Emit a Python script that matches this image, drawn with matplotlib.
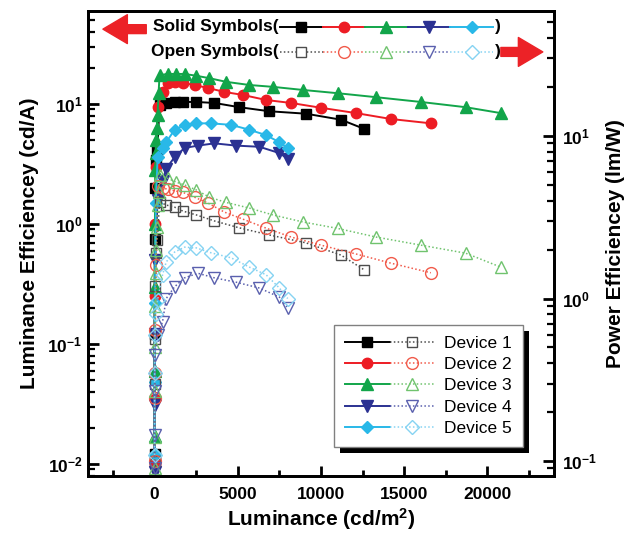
import numpy as np
import matplotlib
matplotlib.use('Agg')
import matplotlib.pyplot as plt
from matplotlib.legend_handler import HandlerTuple
from matplotlib.patches import Rectangle
from matplotlib.ticker import FixedLocator, MultipleLocator, LogLocator, FuncFormatter, NullFormatter

plt.rcParams['font.family'] = ['Liberation Sans', 'DejaVu Sans']
plt.rcParams['mathtext.fontset'] = 'custom'
plt.rcParams['mathtext.rm'] = 'Liberation Sans:bold'
plt.rcParams['mathtext.bf'] = 'Liberation Sans:bold'
plt.rcParams['mathtext.it'] = 'Liberation Sans:bold'

## Data (luminance cd/m2, current eff. cd/A, power eff. lm/W)
device_names = ['Device 1', 'Device 2', 'Device 3', 'Device 4', 'Device 5']

lum_1 = [0.5, 3, 15, 50, 100, 160, 300, 700, 1200, 1700, 2500, 3600, 5100, 6900, 9100, 11200, 12600]
ce_1 = [0.012, 0.12, 0.75, 2.0, 3.4, 4.1, 9.8, 10.2, 10.4, 10.4, 10.4, 10.2, 9.4, 8.7, 8.3, 7.4, 6.2]
pe_1 = [0.1, 0.3, 0.56, 1.2, 1.9, 2.3, 3.93, 3.76, 3.65, 3.45, 3.27, 3.0, 2.72, 2.46, 2.2, 1.85, 1.5]

lum_2 = [0.5, 3, 15, 50, 100, 180, 480, 780, 1200, 1700, 2400, 3200, 4200, 5300, 6700, 8200, 10000, 12100, 14200, 16600]
ce_2 = [0.01, 0.035, 0.25, 1.0, 3.0, 9.5, 12.6, 15.0, 15.3, 15.0, 14.4, 13.6, 12.6, 11.9, 10.8, 10.2, 9.3, 8.4, 7.5, 6.9]
pe_2 = [0.1, 0.245, 0.35, 0.64, 1.6, 4.9, 4.8, 4.7, 4.6, 4.5, 4.2, 3.87, 3.4, 3.08, 2.71, 2.39, 2.13, 1.88, 1.65, 1.44]

lum_3 = [0.3, 2, 8, 20, 40, 60, 90, 130, 180, 240, 300, 780, 1300, 1800, 2500, 3300, 4300, 5700, 7100, 8900, 11000, 13300, 16000, 18700, 20800]
ce_3 = [0.017, 0.06, 0.3, 1.0, 2.8, 3.9, 5.0, 6.3, 8.1, 12.3, 17.4, 17.8, 17.8, 17.8, 17.2, 16.4, 15.3, 14.4, 13.9, 13.1, 12.3, 11.4, 10.4, 9.4, 8.4]
pe_3 = [0.09, 0.14, 0.27, 0.5, 0.9, 1.43, 2.0, 2.75, 3.76, 4.5, 5.75, 5.5, 5.2, 5.0, 4.66, 4.2, 3.9, 3.6, 3.27, 2.96, 2.7, 2.39, 2.13, 1.9, 1.56]

lum_4 = [0.3, 2, 10, 40, 180, 480, 700, 1200, 1800, 2600, 3600, 4900, 6300, 7500, 8000]
ce_4 = [0.0085, 0.031, 0.12, 0.5, 1.6, 2.3, 2.9, 3.6, 4.3, 4.5, 4.7, 4.5, 4.4, 3.9, 3.5]
pe_4 = [0.09, 0.145, 0.27, 0.45, 0.6, 0.72, 1.0, 1.18, 1.34, 1.43, 1.34, 1.26, 1.16, 1.02, 0.875]

lum_5 = [0.3, 3, 20, 80, 180, 480, 700, 1200, 1800, 2500, 3400, 4600, 5700, 6700, 7500, 8000]
ce_5 = [0.012, 0.048, 0.22, 1.5, 3.6, 4.3, 4.8, 6.1, 6.7, 6.9, 6.9, 6.7, 6.1, 5.5, 4.8, 4.3]
pe_5 = [0.109, 0.35, 0.6, 0.8, 0.98, 1.4, 1.68, 1.93, 2.07, 2.05, 1.91, 1.78, 1.56, 1.4, 1.16, 1.0]

x_ticks = [0, 5000, 10000, 15000, 20000]

lums = [lum_1, lum_2, lum_3, lum_4, lum_5]
ces = [ce_1, ce_2, ce_3, ce_4, ce_5]
pes = [pe_1, pe_2, pe_3, pe_4, pe_5]

## Styles
solid_colors = ['#000000', '#ed1c24', '#12a54a', '#2b3192', '#29b8e8']
open_colors = ['#4d4d4d', '#f15a4a', '#70c36e', '#5a60ae', '#86d3f2']
markers = ['s', 'o', '^', 'v', 'D']
marker_sizes = [6.5, 7.5, 8, 8, 6.5]

fig = plt.figure(figsize=(6.31, 5.45), dpi=100)
ax = fig.add_axes([88 / 631, 69 / 545, 466 / 631, 465 / 545])
ax2 = ax.twinx()

solid_handles = []
open_handles = []
for i in range(5):
  h1, = ax.plot(lums[i], ces[i], color=solid_colors[i], marker=markers[i],
                ms=marker_sizes[i], lw=1.4, mec=solid_colors[i], mfc=solid_colors[i])
  h2, = ax2.plot(lums[i], pes[i], color=open_colors[i], marker=markers[i],
                 ms=marker_sizes[i] + 1, lw=1.1, ls=(0, (1, 1.5)), mfc='none',
                 mec=open_colors[i], mew=1.0)
  solid_handles.append(h1)
  open_handles.append(h2)

## Axes limits and scales
ax.set_xlim(-4000, 24000)
ax.set_yscale('log')
ax.set_ylim(10 ** -2.1, 10 ** 1.775)
ax2.set_yscale('log')
ax2.set_ylim(10 ** -1.092, 10 ** 1.769)

def pow_fmt(v, pos):
  return r'$\mathbf{10^{%d}}$' % int(round(np.log10(v)))

ax.xaxis.set_major_locator(FixedLocator(x_ticks))
ax.xaxis.set_minor_locator(MultipleLocator(2500))
for a in (ax, ax2):
  a.yaxis.set_major_locator(LogLocator(base=10, numticks=10))
  a.yaxis.set_minor_locator(LogLocator(base=10, subs=np.arange(2, 10), numticks=10))
  a.yaxis.set_major_formatter(FuncFormatter(pow_fmt))
  a.yaxis.set_minor_formatter(NullFormatter())
  for sp in a.spines.values():
    sp.set_linewidth(2.0)

ax.tick_params(axis='x', which='major', direction='in', length=7, width=2.0,
               labelsize=12.5, pad=8, top=False)
ax.tick_params(axis='x', which='minor', direction='in', length=4, width=2.0, top=False)
ax.tick_params(axis='y', which='major', direction='in', length=8, width=2.0,
               labelsize=12.5, pad=4, right=False)
ax.tick_params(axis='y', which='minor', direction='in', length=5, width=1.6, right=False)
ax2.tick_params(axis='y', which='major', direction='in', length=8, width=2.0,
                labelsize=12.5, pad=6)
ax2.tick_params(axis='y', which='minor', direction='in', length=5, width=1.6)
for lab in ax.get_xticklabels():
  lab.set_fontweight('bold')

ax.set_xlabel(r'Luminance (cd/m$^{2}$)', fontsize=15, fontweight='bold', labelpad=3)
ax.set_ylabel('Luminance Efficiencey (cd/A)', fontsize=15, fontweight='bold', labelpad=6)
ax2.set_ylabel('Power Efficiencey (lm/W)', fontsize=15, fontweight='bold', labelpad=6)

## Legend: solid + open symbol pairs
leg = ax2.legend([(solid_handles[i], open_handles[i]) for i in range(5)], device_names,
                 handler_map={tuple: HandlerTuple(ndivide=None, pad=0.0)},
                 loc='lower right', bbox_to_anchor=(0.933, 0.062), fontsize=12.5,
                 handlelength=5.2, handletextpad=0.5, labelspacing=0.35,
                 borderpad=0.65, borderaxespad=0, fancybox=False, framealpha=1,
                 edgecolor='#808080', numpoints=1)
leg.get_frame().set_linewidth(1.0)
leg.set_zorder(10)

## Black drop shadow behind the legend
fig.canvas.draw()
bb = leg.get_window_extent().transformed(ax2.transAxes.inverted())
ax2.add_patch(Rectangle((bb.x0 + 6 / 466, bb.y0 - 6 / 465), bb.width, bb.height,
                        transform=ax2.transAxes, facecolor='black', edgecolor='none',
                        zorder=9, clip_on=False))

## Top annotation: symbol key and arrows
row_solid = 0.9656
row_open = 0.912
seg_edges = np.linspace(0.412, 0.869, 6)
ax2.text(0.41, row_solid, 'Solid Symbols(', transform=ax2.transAxes, ha='right',
         va='center', fontsize=12.5, fontweight='bold')
ax2.text(0.41, row_open, 'Open Symbols(', transform=ax2.transAxes, ha='right',
         va='center', fontsize=12.5, fontweight='bold')
for i in range(5):
  x0, x1 = seg_edges[i], seg_edges[i + 1]
  xm = (x0 + x1) / 2
  ax2.plot([x0, x1], [row_solid, row_solid], color=solid_colors[i], lw=1.4,
           transform=ax2.transAxes, clip_on=False)
  ax2.plot([xm], [row_solid], color=solid_colors[i], marker=markers[i],
           ms=marker_sizes[i], transform=ax2.transAxes, clip_on=False)
  ax2.plot([x0, x1], [row_open, row_open], color=open_colors[i], lw=1.1,
           ls=(0, (1, 1.5)), transform=ax2.transAxes, clip_on=False)
  ax2.plot([xm], [row_open], color=open_colors[i], marker=markers[i],
           ms=marker_sizes[i] + 1, mfc='white', mec=open_colors[i],
           transform=ax2.transAxes, clip_on=False)
ax2.text(0.873, row_solid, ')', transform=ax2.transAxes, ha='left', va='center',
         fontsize=12.5, fontweight='bold')
ax2.text(0.873, row_open, ')', transform=ax2.transAxes, ha='left', va='center',
         fontsize=12.5, fontweight='bold')

arrow_props = dict(arrowstyle='simple,head_length=1.1,head_width=1.3,tail_width=0.4',
                   color='#ec2227', mutation_scale=16, shrinkA=0, shrinkB=0)
ax2.annotate('', xy=(0.032, 0.961), xytext=(0.125, 0.961), xycoords='axes fraction',
             textcoords='axes fraction', arrowprops=arrow_props)
ax2.annotate('', xy=(0.976, 0.912), xytext=(0.886, 0.912), xycoords='axes fraction',
             textcoords='axes fraction', arrowprops=arrow_props)

fig.savefig('out.png', dpi=100)
